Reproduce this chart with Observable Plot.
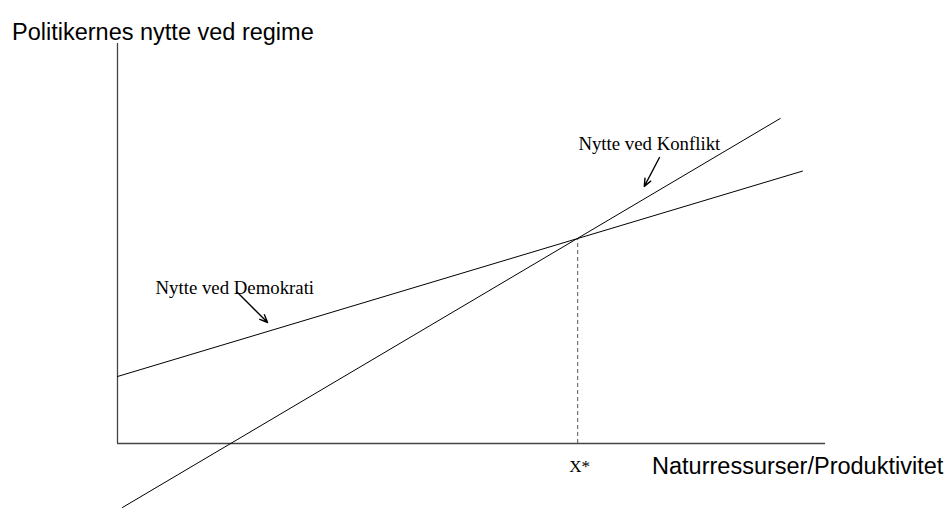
<!DOCTYPE html>
<html>
<head>
<meta charset="utf-8">
<script src="https://cdn.jsdelivr.net/npm/d3@7"></script>
<script src="https://cdn.jsdelivr.net/npm/@observablehq/plot@0.6"></script>
<style>
  html, body { margin: 0; padding: 0; background: #fff; }
  #chart svg { display: block; }
</style>
</head>
<body>
<div id="chart"></div>
<script>
// Line endpoints (data units: both axes run 0..100)
const demokrati = [{x: 0, y: 16.75}, {x: 96.75, y: 68.1}];
const konflikt = [{x: 0.7, y: -16}, {x: 93.6, y: 81.25}];
const xStar = [{x: 65, y: 51.25}];

// Curve labels (start-anchored, baseline at y) and their arrows
const curveLabels = [
  {x: 65.1, y: 73.5, text: "Nytte ved Konflikt"},
  {x: 5.37, y: 37.5, text: "Nytte ved Demokrati"}
];
const arrows = [
  {x1: 76.55, y1: 71.5, x2: 74.4, y2: 64.25},
  {x1: 16.95, y1: 37.75, x2: 21.2, y2: 30.25}
];

const yTitle = "Politikernes nytte ved regime";
const xTitle = "Naturressurser/Produktivitet";
const xStarLabel = "X*";

const serif = "'Liberation Serif', 'DejaVu Serif', serif";
const sans = "'Liberation Sans', Arial, sans-serif";

const chart = Plot.plot({
  width: 948,
  height: 508,
  marginTop: 43,
  marginBottom: 65,
  marginLeft: 117,
  marginRight: 123,
  x: {domain: [0, 100], axis: null},
  y: {domain: [0, 100], axis: null},
  clip: false,
  marks: [
    // axes
    Plot.ruleX([0], {y1: 0, y2: 100, stroke: "#444", strokeWidth: 1.3}),
    Plot.ruleY([0], {x1: 0, x2: 100, stroke: "#444", strokeWidth: 1.3}),
    // dashed drop line
    Plot.ruleX(xStar, {x: "x", y1: 0, y2: "y", stroke: "#555", strokeDasharray: "4,3", strokeWidth: 1}),
    // utility lines
    Plot.line(demokrati, {x: "x", y: "y", stroke: "#000", strokeWidth: 1}),
    Plot.line(konflikt, {x: "x", y: "y", stroke: "#000", strokeWidth: 1}),
    // arrows
    Plot.arrow(arrows, {x1: "x1", y1: "y1", x2: "x2", y2: "y2", stroke: "#000", strokeWidth: 1.4, headLength: 9, headAngle: 45}),
    // curve labels
    Plot.text(curveLabels, {x: "x", y: "y", text: "text", textAnchor: "start", lineAnchor: "bottom", fontFamily: serif, fontSize: 18.8, fill: "#000"}),
    // X* label
    Plot.text(xStar, {x: "x", y: -7.2, text: () => xStarLabel, textAnchor: "middle", lineAnchor: "bottom", fontFamily: serif, fontSize: 17, fill: "#000", dx: 2}),
    // axis titles
    Plot.text([xTitle], {x: 75.5, y: -7.5, text: d => d, textAnchor: "start", lineAnchor: "bottom", fontFamily: sans, fontSize: 23.5, fill: "#000"}),
    Plot.text([yTitle], {x: -14.9, y: 101, text: d => d, textAnchor: "start", lineAnchor: "bottom", fontFamily: sans, fontSize: 23.5, fill: "#000"})
  ]
});

document.getElementById("chart").appendChild(chart);
</script>
</body>
</html>
